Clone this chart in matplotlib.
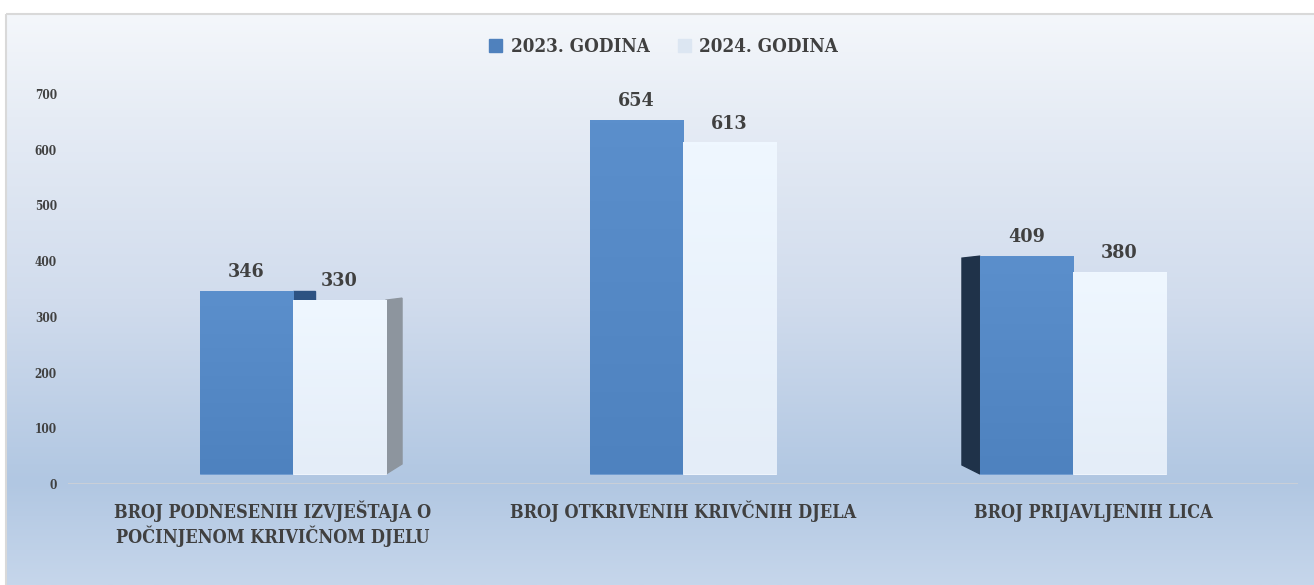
import numpy as np
import matplotlib.pyplot as plt
from matplotlib.colors import LinearSegmentedColormap
from matplotlib.patches import Polygon, Rectangle

# ---------------- data ----------------
categories = ['BROJ PODNESENIH IZVJEŠTAJA O\nPOČINJENOM KRIVIČNOM DJELU',
              'BROJ OTKRIVENIH KRIVČNIH DJELA',
              'BROJ PRIJAVLJENIH LICA']
series_names = ['2023. GODINA', '2024. GODINA']
values_2023 = [346, 654, 409]
values_2024 = [330, 613, 380]
y_ticks = [0, 100, 200, 300, 400, 500, 600, 700]

# ---------------- style ----------------
plt.rcParams['font.family'] = ['DejaVu Serif']
plt.rcParams['font.weight'] = 'bold'
plt.rcParams['font.stretch'] = 'condensed'
txt_col = '#404040'
blue = '#5088c6'
light = '#e9f1fb'

W, H = 1314, 585
fig = plt.figure(figsize=(W / 100, H / 100), dpi=100)

# background panel with vertical gradient and thin frame
bg = fig.add_axes([0, 0, 1, 1], zorder=-5)
bg.set_xlim(0, W)
bg.set_ylim(H, 0)
bg.axis('off')
bg_cmap = LinearSegmentedColormap.from_list(
    'bg', [(0.0, '#f4f7fb'), (0.18, '#e6ecf5'), (0.5, '#d1dced'),
           (0.82, '#b1c7e2'), (1.0, '#c6d6eb')])
grad = np.linspace(0, 1, 256).reshape(-1, 1)
bg.imshow(grad, cmap=bg_cmap, extent=(6, W, H, 14), aspect='auto')
bg.add_patch(Rectangle((5.5, 13.5), W, H, fill=False, edgecolor='#d9d9d9', lw=1.5))

# main axes
ax = fig.add_axes([68 / W, (H - 484) / H, 1230 / W, 390 / H])
ax.patch.set_alpha(0)
for s in ax.spines.values():
    s.set_visible(False)

x = np.arange(len(categories))
w = 0.2385
floor = 18   # raised floor of the 3d bars
bars_a = ax.bar(x - w / 2, np.array(values_2023) - floor, w, bottom=floor,
                color=blue, edgecolor='#6f9bd0', lw=0.6, zorder=3)
bars_b = ax.bar(x + w / 2, np.array(values_2024) - floor, w, bottom=floor,
                color=light, edgecolor='#f5f9ff', lw=0.6, zorder=3)

# soft gradient inside the bars
cm_a = LinearSegmentedColormap.from_list('a', ['#4e82bf', '#5b8fcc'])
cm_b = LinearSegmentedColormap.from_list('b', ['#e4edf8', '#eff7ff'])
g = np.linspace(0, 1, 100).reshape(-1, 1)
for bars, cm in [(bars_a, cm_a), (bars_b, cm_b)]:
    for b in bars:
        x0 = b.get_x()
        im = ax.imshow(g, cmap=cm, origin='lower', aspect='auto', zorder=3.5,
                       extent=(x0, x0 + b.get_width(), b.get_y(), b.get_y() + b.get_height()))
        im.set_clip_path(b)

ax.set_xlim(-0.577, 2.577)
ax.set_ylim(0, 700)

# 3d side faces (pixel -> data helpers)
px_x = 1 / 390.0
px_y = 700 / 390.0
# first group: dark side of the blue bar and grey side of the light bar
b0a, b0b = bars_a[0], bars_b[0]
xa1 = b0a.get_x() + w
ax.add_patch(Polygon([(xa1, values_2023[0]), (xa1 + 22 * px_x, values_2023[0]),
                      (xa1 + 22 * px_x, values_2024[0]), (xa1, values_2024[0])],
                     closed=True, color='#2d5282', zorder=2.5))
xb1 = b0b.get_x() + w
ax.add_patch(Polygon([(xb1, values_2024[0]), (xb1 + 16 * px_x, values_2024[0] + 2 * px_y),
                      (xb1 + 16 * px_x, floor + 10 * px_y), (xb1, floor)],
                     closed=True, color='#8d959e', zorder=2.5))
# third group: dark left side of the blue bar
xa0 = bars_a[2].get_x()
ax.add_patch(Polygon([(xa0 - 18 * px_x, values_2023[2] - 2 * px_y), (xa0, values_2023[2]),
                      (xa0, floor), (xa0 - 18 * px_x, floor + 9 * px_y)],
                     closed=True, color='#1f3249', zorder=2.5))

# floor line
ax.axhline(0, color='#c9cfd8', lw=2.2, zorder=1)

# value labels
for bars, vals in [(bars_a, values_2023), (bars_b, values_2024)]:
    for b, v in zip(bars, vals):
        ax.annotate(str(v), (b.get_x() + w / 2, v), xytext=(0, 10),
                    textcoords='offset points', ha='center', va='baseline',
                    fontsize=14, color=txt_col, zorder=5)

# y axis
ax.set_yticks(y_ticks)
ax.set_yticklabels([str(t) for t in y_ticks], fontsize=8.5, color=txt_col)
ax.tick_params(axis='y', length=0, pad=8)
ax.set_xticks([])

# category labels, evenly spread under the floor, one baseline per line
for i, lab in enumerate(categories):
    for k, line in enumerate(lab.split('\n')):
        ax.text((i + 0.5) / len(categories), -0.087 - k * 0.064, line,
                transform=ax.transAxes, ha='center', va='baseline',
                fontsize=13, color=txt_col)

# legend
handles = [Rectangle((0, 0), 1, 1, color='#4f81bd'), Rectangle((0, 0), 1, 1, color='#dce6f2')]
fig.legend(handles, series_names, loc='center', bbox_to_anchor=(0.505, 0.92), ncol=2,
           frameon=False, fontsize=13.5, handlelength=0.7, handleheight=0.7,
           handletextpad=0.45, columnspacing=1.5, labelcolor=txt_col)

fig.savefig('out.png', dpi=100)
